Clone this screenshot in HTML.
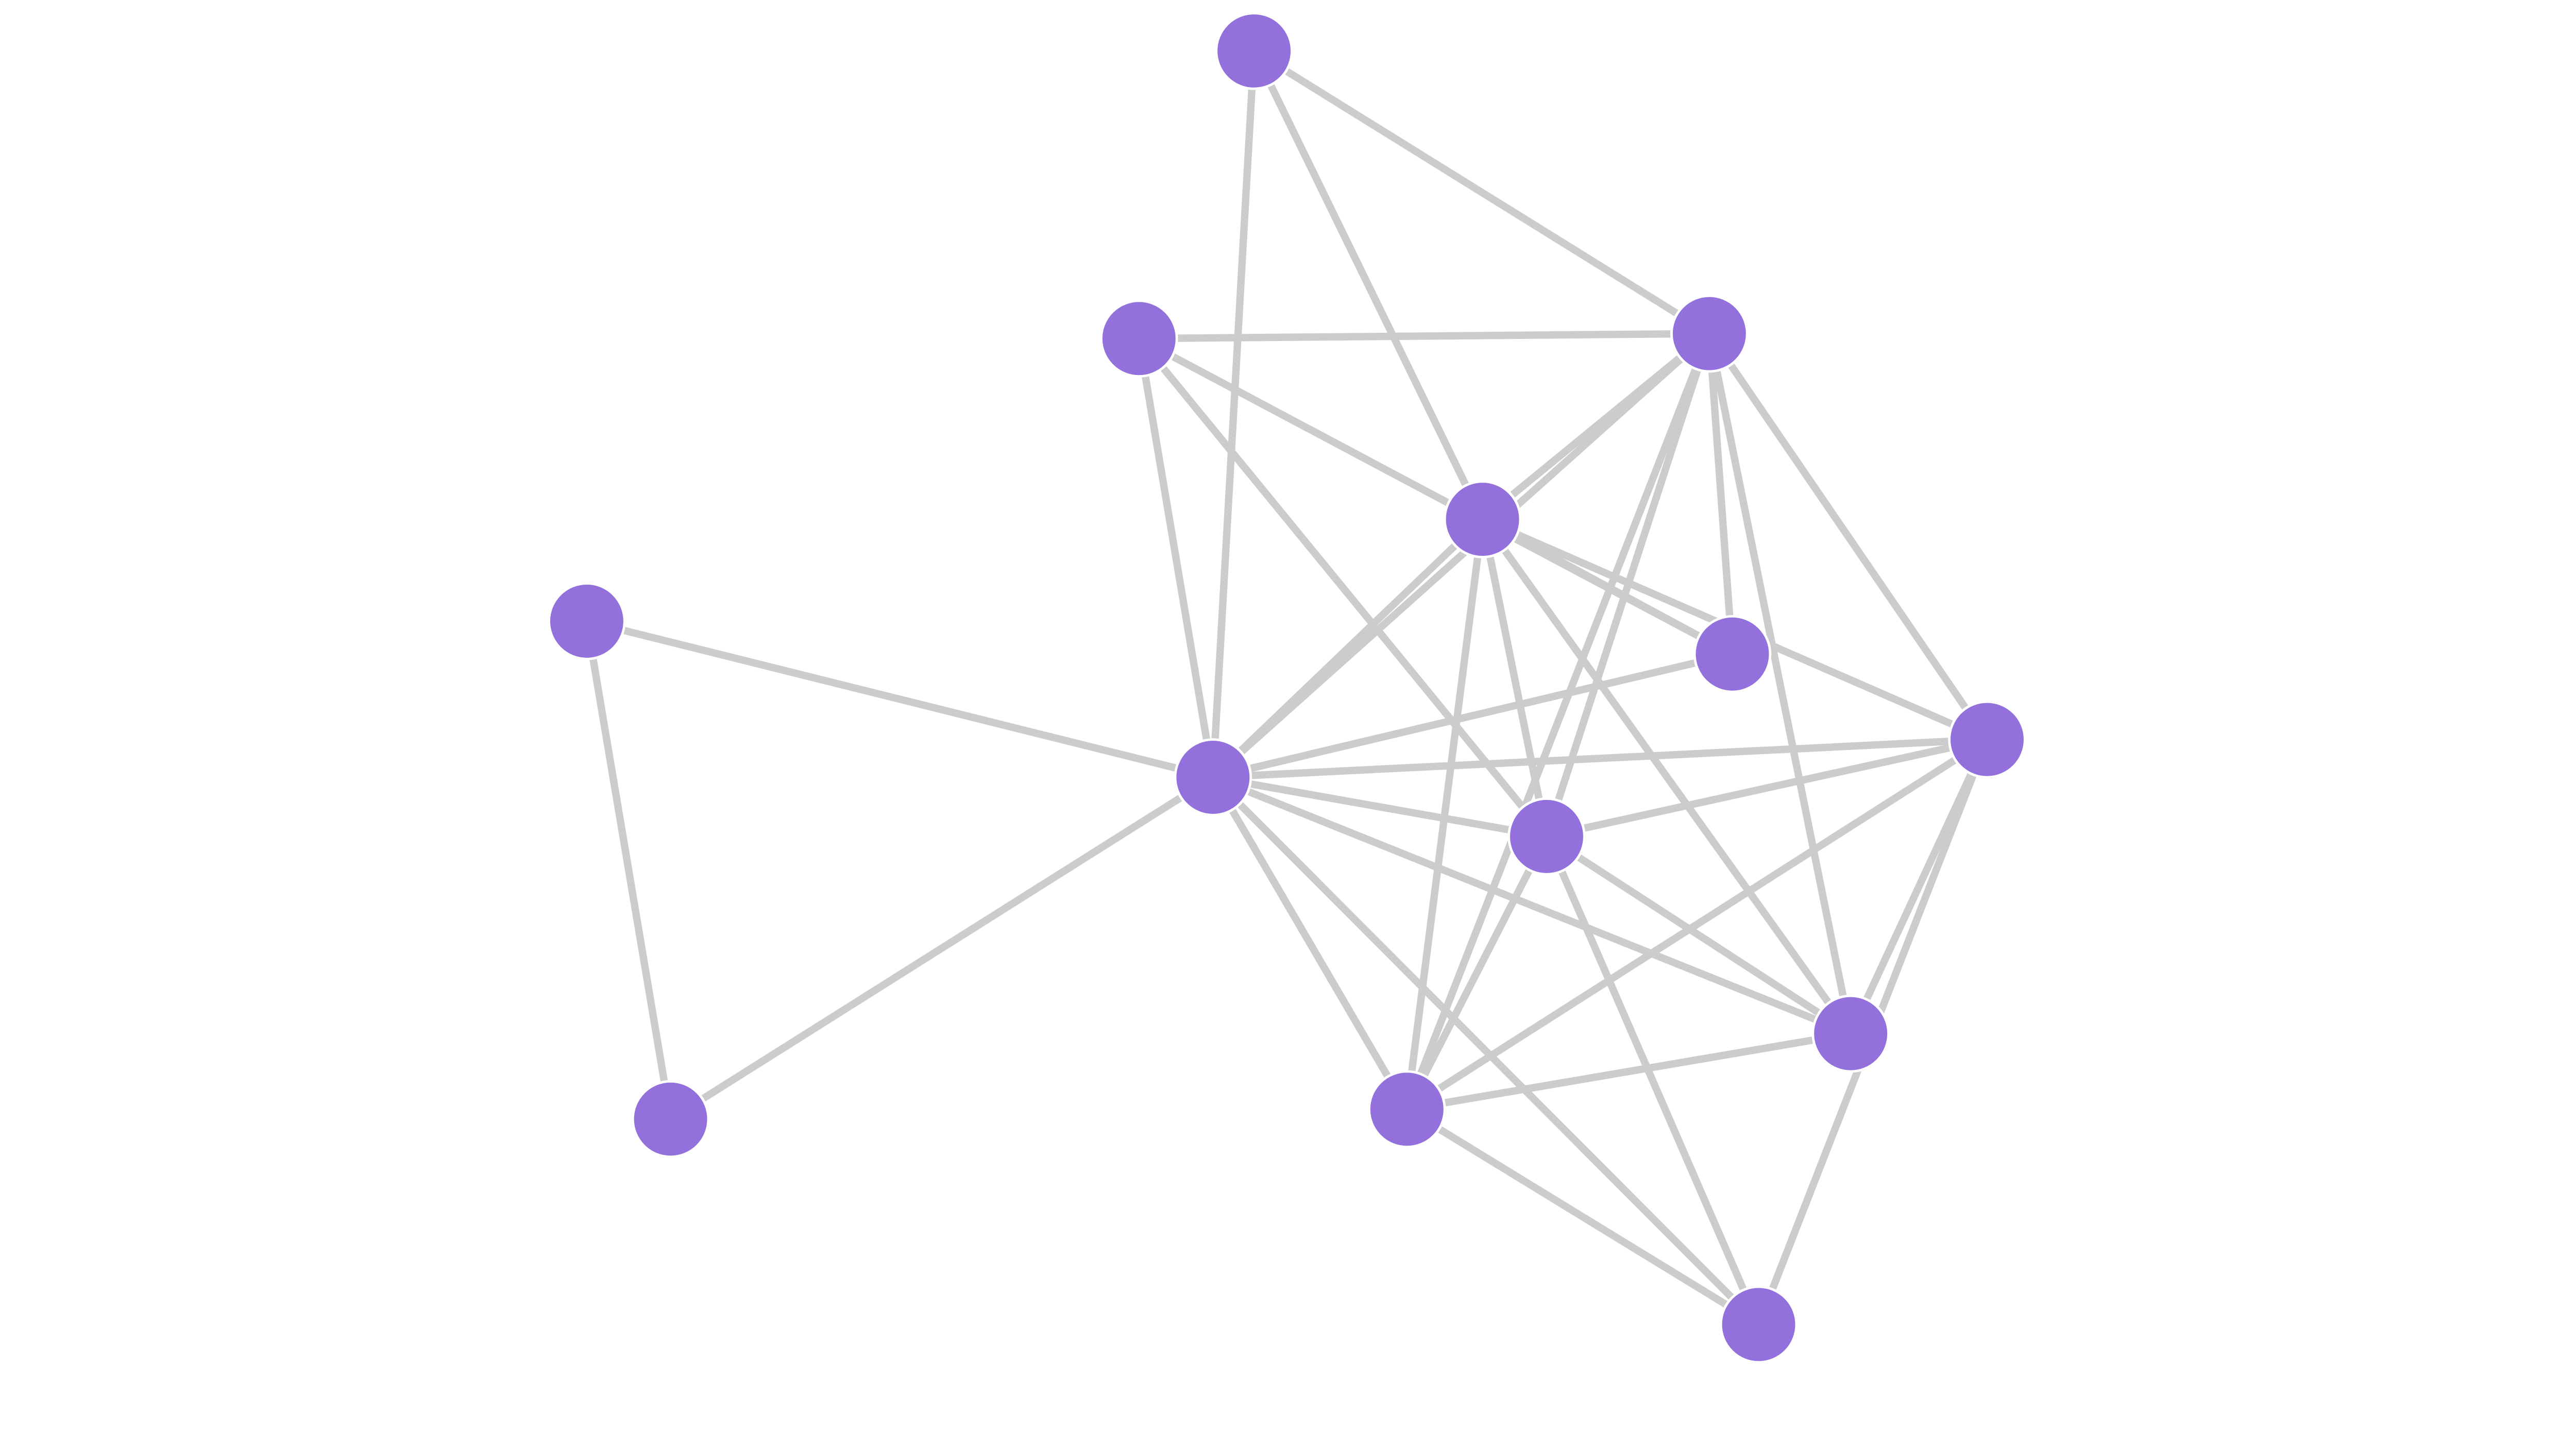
<!DOCTYPE html>
<html><head><meta charset="utf-8"><style>
html,body{margin:0;padding:0;background:#fff;width:5200px;height:2780px;overflow:hidden}
svg{display:block}
</style></head><body>
<svg width="5200" height="2780" viewBox="0 0 1630 871.4" xmlns="http://www.w3.org/2000/svg">
<g stroke="#cccccc" stroke-width="4.5" fill="none">
<line x1="763" y1="31" x2="1040" y2="203"/>
<line x1="763" y1="31" x2="902" y2="316"/>
<line x1="763" y1="31" x2="738" y2="473"/>
<line x1="693" y1="206" x2="1040" y2="203"/>
<line x1="693" y1="206" x2="1054" y2="398"/>
<line x1="693" y1="206" x2="738" y2="473"/>
<line x1="693" y1="206" x2="941" y2="509"/>
<line x1="1040" y1="203" x2="902" y2="316"/>
<line x1="1040" y1="203" x2="738" y2="473"/>
<line x1="1040" y1="203" x2="1054" y2="398"/>
<line x1="1040" y1="203" x2="1209" y2="450"/>
<line x1="1040" y1="203" x2="1126" y2="629"/>
<line x1="1040" y1="203" x2="856" y2="675"/>
<line x1="1040" y1="203" x2="941" y2="509"/>
<line x1="902" y1="316" x2="738" y2="473"/>
<line x1="902" y1="316" x2="941" y2="509"/>
<line x1="902" y1="316" x2="1126" y2="629"/>
<line x1="902" y1="316" x2="856" y2="675"/>
<line x1="902" y1="316" x2="1054" y2="398"/>
<line x1="902" y1="316" x2="1209" y2="450"/>
<line x1="357" y1="378" x2="738" y2="473"/>
<line x1="357" y1="378" x2="408" y2="681"/>
<line x1="408" y1="681" x2="738" y2="473"/>
<line x1="1054" y1="398" x2="738" y2="473"/>
<line x1="1209" y1="450" x2="738" y2="473"/>
<line x1="1209" y1="450" x2="941" y2="509"/>
<line x1="1209" y1="450" x2="856" y2="675"/>
<line x1="1209" y1="450" x2="1126" y2="629"/>
<line x1="1209" y1="450" x2="1070" y2="806"/>
<line x1="738" y1="473" x2="941" y2="509"/>
<line x1="738" y1="473" x2="1126" y2="629"/>
<line x1="738" y1="473" x2="856" y2="675"/>
<line x1="738" y1="473" x2="1070" y2="806"/>
<line x1="941" y1="509" x2="1126" y2="629"/>
<line x1="941" y1="509" x2="856" y2="675"/>
<line x1="941" y1="509" x2="1070" y2="806"/>
<line x1="1126" y1="629" x2="856" y2="675"/>
<line x1="856" y1="675" x2="1070" y2="806"/>
</g>
<g fill="#9370db" stroke="#ffffff" stroke-width="1.5">
<circle cx="763" cy="31" r="23"/>
<circle cx="693" cy="206" r="23"/>
<circle cx="1040" cy="203" r="23"/>
<circle cx="902" cy="316" r="23"/>
<circle cx="357" cy="378" r="23"/>
<circle cx="1054" cy="398" r="23"/>
<circle cx="1209" cy="450" r="23"/>
<circle cx="738" cy="473" r="23"/>
<circle cx="941" cy="509" r="23"/>
<circle cx="1126" cy="629" r="23"/>
<circle cx="856" cy="675" r="23"/>
<circle cx="408" cy="681" r="23"/>
<circle cx="1070" cy="806" r="23"/>
</g>
</svg>
</body></html>
